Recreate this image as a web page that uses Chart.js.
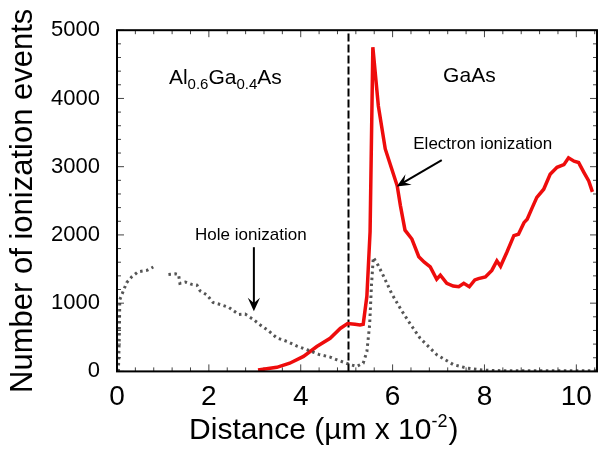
<!DOCTYPE html>
<html lang="en">
<head>
  <meta charset="UTF-8" />
  <title>Ionization events vs distance</title>
  <script src="https://cdn.jsdelivr.net/npm/chart.js"></script>
  <style>
    * { box-sizing: border-box; margin: 0; padding: 0; }
    body { background: #fff; width: 611px; height: 454px; overflow: hidden; }
    .wrap { position: relative; width: 611px; height: 454px; }
  </style>
</head>
<body>
  <div class="wrap"><canvas id="chart"></canvas></div>

  <script>
    // data (x in µm x 10^-2)
    const electronX = [3.07, 3.48, 3.76, 4.06, 4.35, 4.64, 4.86, 5.02, 5.18, 5.29, 5.36, 5.44, 5.51, 5.57, 5.69, 5.84,
      5.98, 6.10, 6.17, 6.27, 6.42, 6.57, 6.69, 6.82, 6.96, 7.04, 7.18, 7.32, 7.44, 7.55, 7.67, 7.79, 7.87, 8.02,
      8.16, 8.27, 8.35, 8.49, 8.64, 8.74, 8.86, 8.93, 9.04, 9.14, 9.29, 9.43, 9.58, 9.73, 9.83, 9.95, 10.05, 10.17,
      10.27, 10.35];
    const electronY = [20, 60, 120, 220, 365, 485, 630, 700, 690, 680, 690, 1100, 2050, 4750, 3890, 3260,
      2970, 2720, 2430, 2070, 1940, 1680, 1600, 1530, 1350, 1410, 1290, 1250, 1240, 1290, 1240, 1340, 1360, 1385,
      1480, 1620, 1540, 1750, 1990, 2010, 2180, 2230, 2400, 2550, 2670, 2890, 2990, 3030, 3130, 3080, 3060, 2910,
      2790, 2630];

    const holeX = [0.03, 0.05, 0.06, 0.21, 0.32, 0.46, 0.65, 0.79, 0.94, 1.12, 1.27, 1.34, 1.37, 1.49, 1.63, 1.74,
      1.81, 1.96, 2.09, 2.25, 2.43, 2.65, 2.79, 2.97, 3.12, 3.29, 3.48, 3.70, 3.92, 4.13, 4.39, 4.64, 4.79,
      5.07, 5.22, 5.36, 5.44, 5.50, 5.54, 5.58, 5.69, 5.80, 5.98, 6.17, 6.35, 6.60, 6.96, 7.32, 7.61, 7.95, 8.37,
      9.41, 10.45];
    const holeY = [0, 500, 1050, 1300, 1385, 1460, 1480, 1530, null, 1420, 1430, 1420, 1290, 1310, 1275, 1265,
      1180, 1120, 1010, 980, 940, 835, 840, 760, 680, 600, 490, 440, 370, 320, 250, 210, 170,
      100, 75, 120, 290, 680, 1260, 1670, 1550, 1400, 1140, 920, 730, 485, 245, 100, 50, 20, 10,
      10, 10];

    const boundaryX = 5.04;
    const xTicks = [0, 2, 4, 6, 8, 10];
    const yTicks = [0, 1000, 2000, 3000, 4000, 5000];

    const toPoints = (xs, ys) => xs.map((x, i) => ({ x: x, y: ys[i] }));

    const FONT = "'Liberation Sans', Arial, sans-serif";

    // frame, inner tick marks, x title and annotations
    const decor = {
      id: 'decor',
      beforeDatasetsDraw(chart) {
        const { ctx, chartArea: a, scales: { x, y } } = chart;
        ctx.save();
        ctx.strokeStyle = '#444';
        ctx.lineWidth = 1;
        ctx.beginPath();
        for (let i = 0; i * 0.4 <= x.max; i++) {
          const px = x.getPixelForValue(i * 0.4);
          const len = (i % 5 === 0) ? 7 : 4;
          ctx.moveTo(px, a.bottom); ctx.lineTo(px, a.bottom - len);
          ctx.moveTo(px, a.top); ctx.lineTo(px, a.top + len);
        }
        for (let v = 0; v <= 5000; v += 200) {
          const py = y.getPixelForValue(v);
          const len = (v % 1000 === 0) ? 7 : 4;
          ctx.moveTo(a.left, py); ctx.lineTo(a.left + len, py);
          ctx.moveTo(a.right, py); ctx.lineTo(a.right - len, py);
        }
        ctx.stroke();
        ctx.restore();
      },
      afterDatasetsDraw(chart) {
        const { ctx, chartArea: a, scales: { x, y } } = chart;
        ctx.save();
        ctx.strokeStyle = '#000';
        ctx.lineWidth = 2;
        ctx.strokeRect(a.left, a.top, a.right - a.left, a.bottom - a.top);

        ctx.fillStyle = '#000';
        ctx.textBaseline = 'alphabetic';

        // x axis title with superscript, like the original
        let tx = x.getPixelForValue(1.57);
        const ty = a.bottom + 68;
        [['Distance (µm x 10', 0], ['-2', 1], [')', 0]].forEach(([t, sup]) => {
          ctx.font = (sup ? '18px ' : '30px ') + FONT;
          ctx.fillText(t, tx, ty - (sup ? 12 : 0));
          tx += ctx.measureText(t).width + (sup ? 1 : 0);
        });

        // Al0.6Ga0.4As
        let px = x.getPixelForValue(1.13);
        const py = y.getPixelForValue(4210);
        const parts = [['Al', 0], ['0.6', 1], ['Ga', 0], ['0.4', 1], ['As', 0]];
        parts.forEach(([t, sub]) => {
          ctx.font = (sub ? '15px ' : '21px ') + FONT;
          ctx.fillText(t, px, py + (sub ? 5 : 0));
          px += ctx.measureText(t).width;
        });

        ctx.font = '21px ' + FONT;
        ctx.fillText('GaAs', x.getPixelForValue(7.10), y.getPixelForValue(4240));

        ctx.font = '17px ' + FONT;
        ctx.fillText('Hole ionization', x.getPixelForValue(1.70), y.getPixelForValue(1920));
        ctx.fillText('Electron ionization', x.getPixelForValue(6.45), y.getPixelForValue(3255));

        const arrow = (x0, y0, x1, y1) => {
          const ang = Math.atan2(y1 - y0, x1 - x0);
          const head = 15, spread = 0.42;
          ctx.beginPath();
          ctx.moveTo(x0, y0);
          ctx.lineTo(x1 - Math.cos(ang) * 8, y1 - Math.sin(ang) * 8);
          ctx.lineWidth = 2;
          ctx.stroke();
          ctx.beginPath();
          ctx.moveTo(x1, y1);
          ctx.lineTo(x1 - head * Math.cos(ang - spread), y1 - head * Math.sin(ang - spread));
          ctx.lineTo(x1 - head * 0.55 * Math.cos(ang), y1 - head * 0.55 * Math.sin(ang));
          ctx.lineTo(x1 - head * Math.cos(ang + spread), y1 - head * Math.sin(ang + spread));
          ctx.closePath();
          ctx.fill();
        };
        arrow(x.getPixelForValue(2.98), y.getPixelForValue(1820), x.getPixelForValue(2.98), y.getPixelForValue(880));
        arrow(x.getPixelForValue(7.07), y.getPixelForValue(3095), x.getPixelForValue(6.09), y.getPixelForValue(2710));
        ctx.restore();
      }
    };

    new Chart(document.getElementById('chart'), {
      type: 'line',
      data: {
        datasets: [
          {
            label: 'Hole ionization',
            data: toPoints(holeX, holeY),
            borderColor: 'rgba(55,55,55,0.85)',
            borderWidth: 3,
            borderDash: [2.5, 3.5],
            pointRadius: 0,
            spanGaps: false,
            tension: 0
          },
          {
            label: 'Electron ionization',
            data: toPoints(electronX, electronY),
            borderColor: 'rgb(238,12,12)',
            borderWidth: 3.5,
            pointRadius: 0,
            tension: 0
          },
          {
            label: 'Interface',
            data: [{ x: boundaryX, y: 0 }, { x: boundaryX, y: 5000 }],
            borderColor: '#000',
            borderWidth: 2,
            borderDash: [8, 3],
            pointRadius: 0
          }
        ]
      },
      options: {
        responsive: true,
        maintainAspectRatio: false,
        animation: false,
        layout: { padding: { top: 27, right: 14, bottom: 31, left: 0 } },
        plugins: { legend: { display: false }, tooltip: { enabled: false } },
        scales: {
          x: {
            type: 'linear',
            min: 0, max: 10.45,
            afterBuildTicks: (s) => { s.ticks = xTicks.map(v => ({ value: v })); },
            grid: { display: false, drawTicks: false },
            border: { display: false },
            ticks: { color: '#000', font: { family: FONT, size: 28 }, padding: 9, maxRotation: 0 },
            title: { display: false }
          },
          y: {
            min: 0, max: 5000,
            afterBuildTicks: (s) => { s.ticks = yTicks.map(v => ({ value: v })); },
            afterFit: (s) => { s.width = 117; },
            grid: { display: false, drawTicks: false },
            border: { display: false },
            ticks: { color: '#000', font: { family: FONT, size: 22 }, padding: 17, callback: (v) => String(v) },
            title: {
              display: true,
              text: 'Number of ionization events',
              color: '#000',
              font: { family: FONT, size: 31 },
              padding: { top: 5, bottom: 0 }
            }
          }
        }
      },
      plugins: [decor]
    });
  </script>
</body>
</html>
